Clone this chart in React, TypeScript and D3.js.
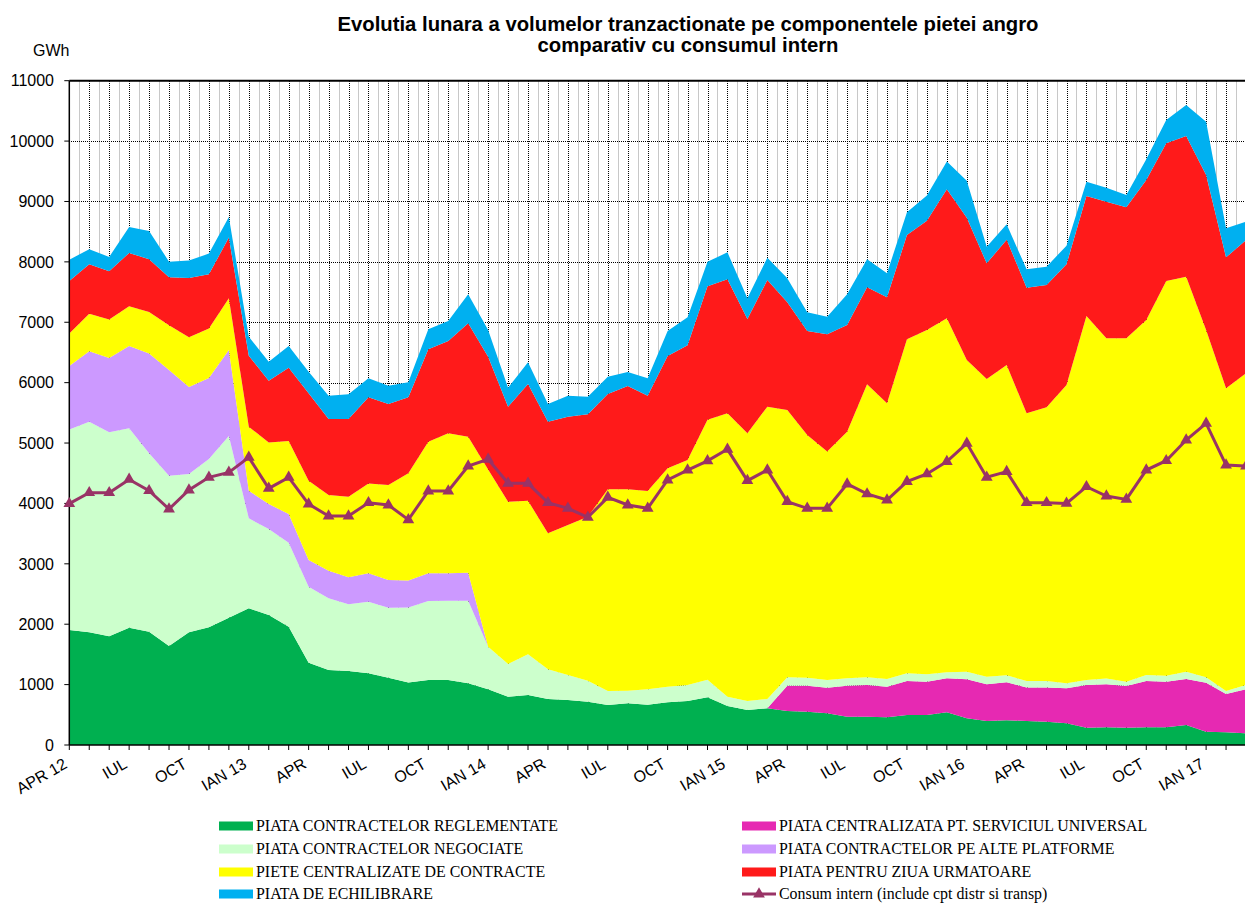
import React, { useEffect, useRef } from 'react';
import * as d3 from 'd3';

// luni: apr 2012 .. mar 2017
const months = [
  'apr-12', 'mai-12', 'iun-12', 'iul-12', 'aug-12', 'sep-12', 'oct-12', 'nov-12', 'dec-12',
  'ian-13', 'feb-13', 'mar-13', 'apr-13', 'mai-13', 'iun-13', 'iul-13', 'aug-13', 'sep-13', 'oct-13', 'nov-13', 'dec-13',
  'ian-14', 'feb-14', 'mar-14', 'apr-14', 'mai-14', 'iun-14', 'iul-14', 'aug-14', 'sep-14', 'oct-14', 'nov-14', 'dec-14',
  'ian-15', 'feb-15', 'mar-15', 'apr-15', 'mai-15', 'iun-15', 'iul-15', 'aug-15', 'sep-15', 'oct-15', 'nov-15', 'dec-15',
  'ian-16', 'feb-16', 'mar-16', 'apr-16', 'mai-16', 'iun-16', 'iul-16', 'aug-16', 'sep-16', 'oct-16', 'nov-16', 'dec-16',
  'ian-17', 'feb-17', 'mar-17',
];

const tickLabels = [
  'APR 12', 'IUL', 'OCT', 'IAN 13', 'APR', 'IUL', 'OCT', 'IAN 14', 'APR', 'IUL',
  'OCT', 'IAN 15', 'APR', 'IUL', 'OCT', 'IAN 16', 'APR', 'IUL', 'OCT', 'IAN 17',
];

// GWh
const reglementate = [
  1904, 1865, 1799, 1943, 1876, 1639, 1865, 1948, 2108, 2263, 2152, 1959, 1363, 1242, 1225, 1187, 1115, 1035, 1076, 1076,
  1021, 922, 800, 828, 762, 745, 717, 662, 690, 668, 706, 728, 789, 646, 580, 607, 563, 552, 524, 469,
  469, 458, 497, 497, 541, 442, 397, 410, 397, 386, 359, 287, 292, 287, 292, 292, 331, 221, 210, 193,
];
const serviciuUniversal = [
  0, 0, 0, 0, 0, 0, 0, 0, 0, 0, 0, 0, 0, 0, 0, 0, 0, 0, 0, 0,
  0, 0, 0, 0, 0, 0, 0, 0, 0, 0, 0, 0, 0, 0, 0, 0, 419, 430, 425, 513,
  525, 508, 563, 552, 563, 645, 608, 628, 557, 568, 579, 707, 712, 690, 767, 756, 761, 811, 634, 728,
];
const negociate = [
  3322, 3488, 3378, 3300, 2953, 2820, 2622, 2787, 3008, 1490, 1424, 1391, 1258, 1186, 1104, 1186, 1159, 1242, 1308, 1314,
  1369, 706, 541, 673, 491, 414, 348, 232, 210, 254, 260, 265, 291, 155, 149, 155, 139, 133, 127, 122,
  127, 127, 127, 121, 99, 127, 127, 115, 105, 105, 83, 82, 99, 71, 99, 99, 122, 88, 50, 73,
];
const altePlatforme = [
  1049, 1167, 1232, 1365, 1652, 1751, 1441, 1342, 1424, 458, 414, 474, 442, 458, 447, 469, 458, 448, 459, 453,
  464, 0, 0, 0, 0, 0, 0, 0, 0, 0, 0, 0, 0, 0, 0, 0, 0, 0, 0, 0,
  0, 0, 0, 0, 0, 0, 0, 0, 0, 0, 0, 0, 0, 0, 0, 0, 0, 0, 0, 0,
];
const centralizate = [
  537, 623, 635, 657, 690, 740, 824, 818, 857, 1059, 1021, 1209, 1313, 1253, 1335, 1490, 1573, 1773, 2180, 2318,
  2252, 2936, 2688, 2544, 2252, 2484, 2716, 3339, 3333, 3284, 3615, 3726, 4305, 4691, 4432, 4841, 4426, 4019, 3782, 4085,
  4851, 4565, 5531, 5702, 5862, 5161, 4929, 5140, 4433, 4532, 4940, 6028, 5631, 5686, 5880, 6536, 6541, 5752, 5012, 5160,
];
const ziuaUrmatoare = [
  872, 817, 800, 883, 872, 795, 982, 900, 1005, 1177, 1022, 1215, 1447, 1259, 1287, 1425, 1341, 1262, 1529, 1529,
  1876, 1866, 1573, 1933, 1849, 1794, 1694, 1579, 1711, 1578, 1860, 1899, 2210, 2219, 1893, 2097, 1783, 1722, 1942, 1766,
  1607, 1755, 1727, 1811, 2137, 2357, 1915, 2075, 2081, 2026, 1998, 1987, 2263, 2169, 2318, 2280, 2329, 2567, 2169, 2208,
];
const echilibrare = [
  353, 249, 238, 430, 469, 259, 287, 342, 342, 314, 314, 359, 359, 386, 408, 314, 304, 245, 331, 331,
  480, 442, 315, 358, 292, 347, 293, 287, 232, 287, 414, 464, 405, 447, 343, 370, 398, 309, 293, 508,
  463, 398, 376, 414, 458, 613, 276, 254, 303, 304, 309, 237, 232, 204, 342, 386, 514, 883, 480, 304,
];
const consumIntern = [
  3996, 4178, 4178, 4398, 4211, 3907, 4222, 4432, 4514, 4763, 4249, 4432, 3990, 3791, 3791, 4012, 3974, 3730, 4206, 4206,
  4620, 4730, 4333, 4333, 4012, 3919, 3770, 4101, 3974, 3919, 4388, 4553, 4705, 4896, 4377, 4554, 4030, 3919, 3919, 4322,
  4157, 4057, 4361, 4488, 4692, 4996, 4433, 4526, 4012, 4012, 4001, 4277, 4123, 4067, 4553, 4708, 5050, 5326, 4636, 4619,
];

const seriesDefs = [
  { key: 'reglementate', name: 'PIATA CONTRACTELOR REGLEMENTATE', color: '#00B050', values: reglementate },
  { key: 'serviciu', name: 'PIATA CENTRALIZATA PT. SERVICIUL UNIVERSAL', color: '#E629B2', values: serviciuUniversal },
  { key: 'negociate', name: 'PIATA CONTRACTELOR NEGOCIATE', color: '#CCFFCC', values: negociate },
  { key: 'alte', name: 'PIATA CONTRACTELOR PE ALTE PLATFORME', color: '#CC99FF', values: altePlatforme },
  { key: 'centralizate', name: 'PIETE CENTRALIZATE DE CONTRACTE', color: '#FFFF00', values: centralizate },
  { key: 'pzu', name: 'PIATA PENTRU ZIUA URMATOARE', color: '#FF1A1A', values: ziuaUrmatoare },
  { key: 'pe', name: 'PIATA DE ECHILIBRARE', color: '#00B0F0', values: echilibrare },
];

const CONSUM_COLOR = '#993366';
const FONT = 'Arial, "Liberation Sans", sans-serif';
const SERIF = '"Times New Roman", "Liberation Serif", serif';

const W = 1245;
const H = 904;

// crisp 1px lines
const px = (v: number) => Math.round(v) + 0.5;

export default function App() {
  const svgRef = useRef<SVGSVGElement>(null);

  useEffect(() => {
    if (!svgRef.current) return;
    const svg = d3.select(svgRef.current);
    svg.selectAll('*').remove();

    const left = 69.3;
    const right = 1246;
    const top = 80.7;
    const bottom = 745;

    const x = d3.scaleLinear().domain([0, months.length - 1]).range([left, right]);
    const y = d3.scaleLinear().domain([0, 11000]).range([bottom, top]);

    // title
    const title = svg.append('g').attr('font-family', FONT).attr('font-weight', 'bold').attr('font-size', 20.3).attr('text-anchor', 'middle');
    title.append('text').attr('x', 688).attr('y', 30.5).text('Evolutia lunara a volumelor tranzactionate pe componentele pietei angro');
    title.append('text').attr('x', 688).attr('y', 52).text('comparativ cu consumul intern');

    svg.append('text').attr('x', 33).attr('y', 56).attr('font-family', FONT).attr('font-size', 16).text('GWh');

    // grid
    const grid = svg.append('g').attr('shape-rendering', 'crispEdges');
    for (let i = 0; i < months.length - 1; i++) {
      const xm = px((x(i) + x(i + 1)) / 2);
      grid.append('line').attr('x1', xm).attr('x2', xm).attr('y1', top).attr('y2', bottom)
        .attr('stroke', '#c8c8c8').attr('stroke-width', 1);
    }
    for (let i = 1; i < months.length; i++) {
      grid.append('line').attr('x1', px(x(i))).attr('x2', px(x(i))).attr('y1', top).attr('y2', bottom)
        .attr('stroke', '#000').attr('stroke-width', 1).attr('stroke-dasharray', '1,1');
    }
    for (let v = 1000; v < 11000; v += 1000) {
      grid.append('line').attr('x1', left).attr('x2', W).attr('y1', px(y(v))).attr('y2', px(y(v)))
        .attr('stroke', '#000').attr('stroke-width', 1).attr('stroke-dasharray', '1,1');
    }

    // stacked areas
    const table = months.map((m, i) => {
      const row: Record<string, number | string> = { month: m };
      seriesDefs.forEach(s => { row[s.key] = s.values[i]; });
      return row;
    });
    const stack = d3.stack<Record<string, number | string>>().keys(seriesDefs.map(s => s.key));
    const stacked = stack(table as any);

    const area = d3.area<d3.SeriesPoint<Record<string, number | string>>>()
      .x((d, i) => x(i))
      .y0(d => y(d[0]))
      .y1(d => y(d[1]));

    svg.append('g').selectAll('path')
      .data(stacked)
      .join('path')
      .attr('fill', (d, i) => seriesDefs[i].color)
      .attr('d', d => area(d) as string);

    // frame
    svg.append('line').attr('x1', left).attr('x2', W).attr('y1', top).attr('y2', top).attr('stroke', '#000').attr('stroke-width', 2);
    svg.append('line').attr('x1', left).attr('x2', left).attr('y1', top).attr('y2', bottom).attr('stroke', '#000').attr('stroke-width', 1.5);
    svg.append('line').attr('x1', left).attr('x2', W).attr('y1', bottom).attr('y2', bottom).attr('stroke', '#000').attr('stroke-width', 1.5);

    // y axis
    const yAxis = svg.append('g').attr('font-family', FONT).attr('font-size', 16);
    d3.range(0, 11001, 1000).forEach(v => {
      yAxis.append('line').attr('x1', left - 5).attr('x2', left).attr('y1', y(v)).attr('y2', y(v)).attr('stroke', '#000');
      yAxis.append('text').attr('x', 54).attr('y', y(v)).attr('dy', '0.36em').attr('text-anchor', 'end').text(v);
    });

    // x axis
    const xAxis = svg.append('g').attr('font-family', FONT).attr('font-size', 16);
    months.forEach((m, i) => {
      xAxis.append('line').attr('x1', x(i)).attr('x2', x(i)).attr('y1', bottom).attr('y2', bottom + 5).attr('stroke', '#000');
    });
    tickLabels.forEach((t, k) => {
      const xi = x(k * 3);
      xAxis.append('text')
        .attr('transform', `translate(${xi - 1},${bottom + 22}) rotate(-30)`)
        .attr('text-anchor', 'end')
        .text(t);
    });

    // consum intern
    const line = d3.line<number>().x((d, i) => x(i)).y(d => y(d));
    svg.append('path').datum(consumIntern)
      .attr('fill', 'none').attr('stroke', CONSUM_COLOR).attr('stroke-width', 3).attr('d', line);
    const tri = d3.symbol().type(d3.symbolTriangle).size(60);
    svg.append('g').selectAll('path')
      .data(consumIntern)
      .join('path')
      .attr('transform', (d, i) => `translate(${x(i)},${y(d)})`)
      .attr('fill', CONSUM_COLOR)
      .attr('d', tri as any);

    // legend
    const legendItems = [
      { s: seriesDefs[0], col: 0, row: 0 },
      { s: seriesDefs[1], col: 1, row: 0 },
      { s: seriesDefs[2], col: 0, row: 1 },
      { s: seriesDefs[3], col: 1, row: 1 },
      { s: seriesDefs[4], col: 0, row: 2 },
      { s: seriesDefs[5], col: 1, row: 2 },
      { s: seriesDefs[6], col: 0, row: 3 },
    ];
    const colX = [219, 742];
    const rowY = [826, 849, 872, 894];
    const legend = svg.append('g').attr('font-family', SERIF).attr('font-size', 15.9);
    legendItems.forEach(it => {
      legend.append('rect').attr('x', colX[it.col]).attr('y', rowY[it.row] - 4.5).attr('width', 34).attr('height', 9).attr('fill', it.s.color);
      legend.append('text').attr('x', colX[it.col] + 37).attr('y', rowY[it.row]).attr('dy', '0.33em').text(it.s.name);
    });
    legend.append('line').attr('x1', colX[1]).attr('x2', colX[1] + 34).attr('y1', rowY[3]).attr('y2', rowY[3])
      .attr('stroke', CONSUM_COLOR).attr('stroke-width', 3);
    legend.append('path').attr('transform', `translate(${colX[1] + 17},${rowY[3]})`).attr('fill', CONSUM_COLOR).attr('d', tri as any);
    legend.append('text').attr('x', colX[1] + 37).attr('y', rowY[3]).attr('dy', '0.33em').text('Consum intern (include cpt distr si transp)');
  }, []);

  return (
    <div style={{ position: 'fixed', left: 0, top: 0, width: W, height: H, background: '#fff' }}>
      <svg ref={svgRef} width={W} height={H} style={{ display: 'block' }} />
    </div>
  );
}
